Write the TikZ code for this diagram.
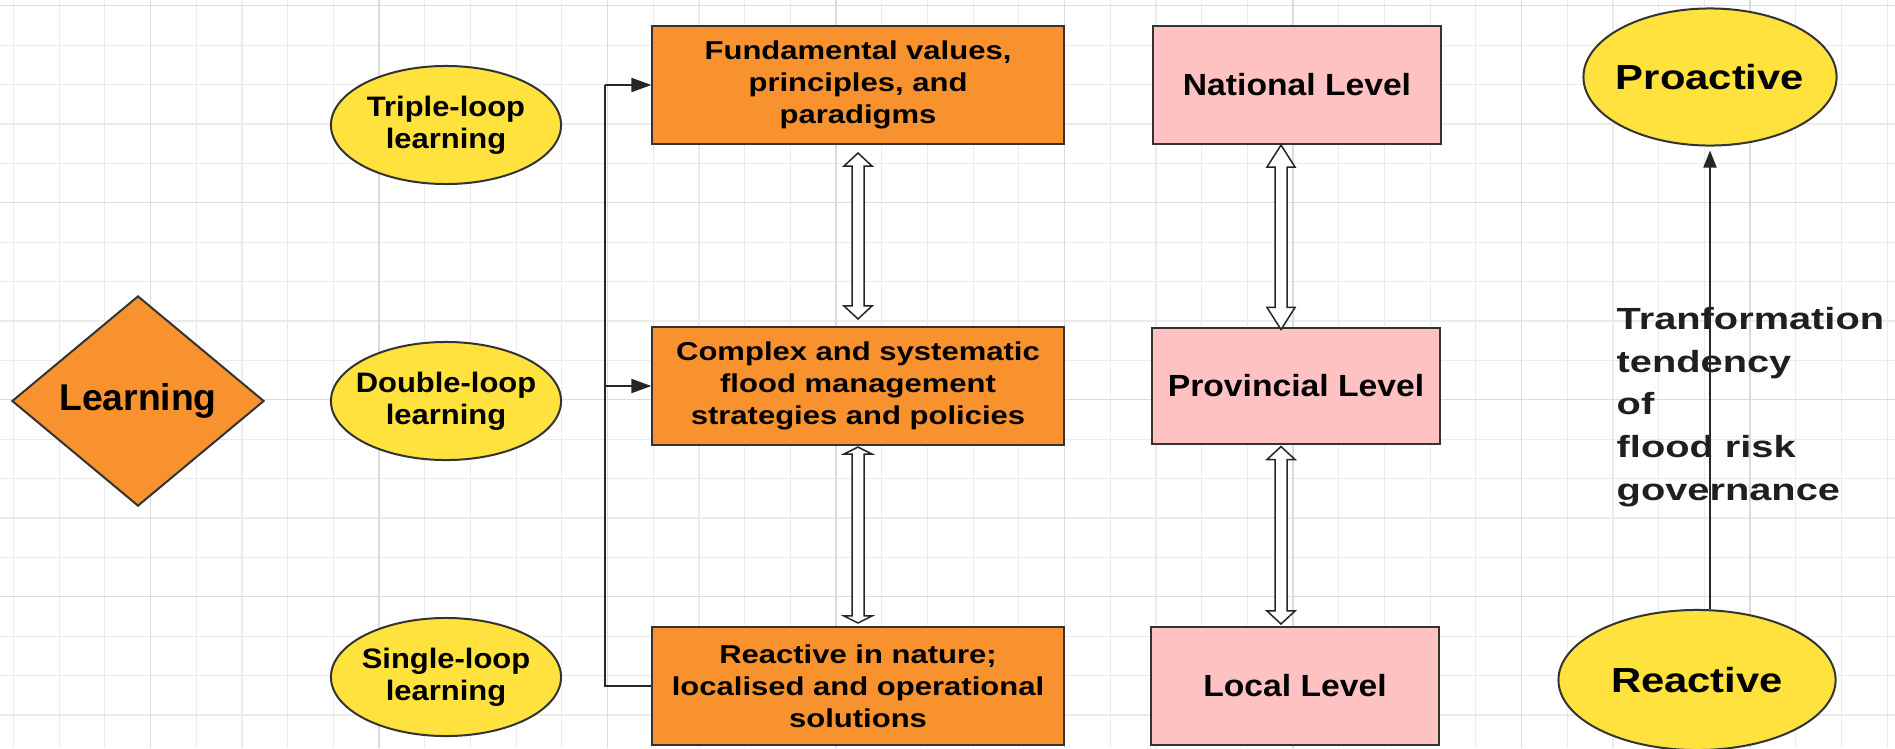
\documentclass[tikz,border=0pt]{standalone}
\usepackage{fontspec}
\setmainfont{Liberation Sans}
\newfontfamily\widei{Liberation Sans}[FakeStretch=1.1]
\newfontfamily\wideii{Liberation Sans}[FakeStretch=1.2]
\newfontfamily\wideiii{Liberation Sans}[FakeStretch=1.3]
\usepackage{xcolor}
\usepackage{tikz}
\usetikzlibrary{arrows.meta,shapes.geometric,calc}
\definecolor{lorange}{HTML}{F7922F}
\definecolor{lyellow}{HTML}{FFE23E}
\definecolor{lpink}{HTML}{FFC2C2}

\begin{document}
\begin{tikzpicture}[x=0.01cm,y=-0.01cm,
  gln/.style={draw=black!8,line width=0.012cm},
  gmaj/.style={draw=black!14,line width=0.014cm},
  dia/.style={diamond,draw=black!80,fill=lorange,line width=0.02cm,aspect=1.2,minimum width=2.52cm,minimum height=2.1cm,inner sep=0pt,font=\bfseries\fontsize{10.6}{12}\selectfont},
  loop/.style={ellipse,draw=black!80,fill=lyellow,line width=0.02cm,minimum width=2.3cm,minimum height=1.18cm,inner xsep=-0.12cm,inner ysep=0pt,align=center,font=\widei\bfseries\fontsize{8}{9.1}\selectfont},
  obox/.style={draw=black!80,fill=lorange,line width=0.02cm,minimum width=4.11cm,minimum height=1.18cm,inner sep=0pt,align=center,font=\wideii\bfseries\fontsize{7.35}{9.1}\selectfont},
  pbox/.style={draw=black!80,fill=lpink,line width=0.02cm,minimum width=2.88cm,minimum height=1.18cm,inner sep=0pt,font=\widei\bfseries\fontsize{8.7}{10}\selectfont},
  gov/.style={ellipse,draw=black!80,fill=lyellow,line width=0.02cm,inner xsep=-0.12cm,inner ysep=0pt,font=\wideii\bfseries\fontsize{9.9}{12}\selectfont},
  note/.style={align=left,inner sep=0pt,text=black!88,font=\wideiii\bfseries\fontsize{8.7}{12.1}\selectfont},
  arr/.style={-{Triangle[length=0.2cm,width=0.14cm]},line width=0.02cm,draw=black!85},
  hol/.style={draw=black!85,fill=white,line width=0.015cm,to path={
    let \p1=(\tikztostart), \p2=(\tikztotarget) in
    (\x1,\y1) -- (\x1-0.14cm,\y1-#1) -- (\x1-0.06cm,\y1-#1) -- (\x1-0.06cm,\y2+#1)
    -- (\x1-0.14cm,\y2+#1) -- (\x1,\y2) -- (\x1+0.14cm,\y2+#1) -- (\x1+0.06cm,\y2+#1)
    -- (\x1+0.06cm,\y1-#1) -- (\x1+0.14cm,\y1-#1) -- cycle}},
  hol/.default=0.13cm]
\useasboundingbox (0,0) rectangle (1895,748);
\fill[white] (0,0) rectangle (1895,748);
% grid
\foreach \i in {0,...,41} \draw[gln] ({13.4+45.7*\i},0) -- ({13.4+45.7*\i},748);
\foreach \j in {0,...,18} \draw[gln] (0,{5.7+39.4*\j}) -- (1895,{5.7+39.4*\j});
\foreach \i in {3,8,...,38} \draw[gmaj] ({13.4+45.7*\i},0) -- ({13.4+45.7*\i},748);
\foreach \j in {0,5,10,15} \draw[gmaj] (0,{5.7+39.4*\j}) -- (1895,{5.7+39.4*\j});
% learning types
\node[dia]  (lrn) at (138,401) {Learning};
\node[loop] (tl)  at (446,125) {Triple-loop\\learning};
\node[loop] (dl)  at (446,401) {Double-loop\\learning};
\node[loop] (sl)  at (446,677) {Single-loop\\learning};
% responses
\node[obox] (o1) at (858,85)  {Fundamental values,\\principles, and\\paradigms};
\node[obox] (o2) at (858,386) {Complex and systematic\\flood management\\strategies and policies};
\node[obox] (o3) at (858,686) {Reactive in nature;\\localised and operational\\solutions};
% levels
\node[pbox] (pn) at (1297,85)  {National Level};
\node[pbox,minimum height=1.15cm] (pp) at (1296,386) {Provincial Level};
\node[pbox] (pl) at (1295,686) {Local Level};
% tendency
\node[gov,minimum width=2.53cm,minimum height=1.37cm] (pro) at (1710,77)  {Proactive};
\node[gov,minimum width=2.77cm,minimum height=1.4cm]  (rea) at (1697,680) {Reactive};
\node[note,anchor=north west] (tr) at (1616,307) {Tranformation\\tendency\\of\\flood risk\\governance};
% connectors
\coordinate (bk) at (605,0);
\draw[line width=0.02cm,draw=black!85] (o3.west) -| (bk |- o1.west);
\draw[arr] (bk |- o1.west) -- (o1.west);
\draw[arr] (bk |- o2.west) -- (o2.west);
\draw[hol] ([yshift=-0.08cm]o1.south) to ([yshift=0.07cm]o2.north);
\draw[hol=0.07cm] ([yshift=-0.01cm]o2.south) to ([yshift=0.03cm]o3.north);
\draw[hol=0.22cm] ([xshift=-0.16cm]pn.south) to ([xshift=-0.15cm,yshift=-0.02cm]pp.north);
\draw[hol] ([xshift=-0.15cm,yshift=-0.02cm]pp.south) to ([xshift=-0.14cm,yshift=0.02cm]pl.north);
\draw[-{Triangle[length=0.17cm,width=0.13cm]},line width=0.02cm,draw=black!85,shorten >=0.04cm] (rea.north -| pro.south) -- (pro.south);
\end{tikzpicture}
\end{document}
